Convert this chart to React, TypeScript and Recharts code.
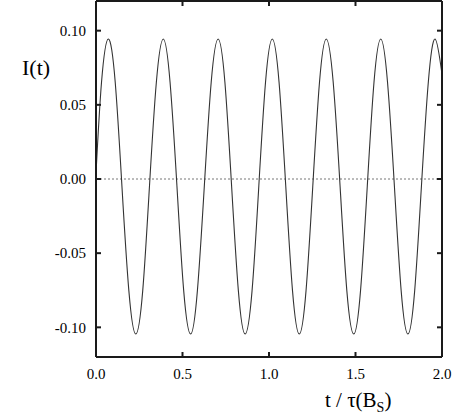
import React from "react";
import { LineChart, Line, XAxis, YAxis, ReferenceLine } from "recharts";

// time in units of tau(B_s)
const T_VALUES = [
  0, 0.032, 0.071, 0.111, 0.150, 0.190, 0.230, 0.270, 0.309, 0.349,
  0.389, 0.428, 0.468, 0.507, 0.547, 0.586, 0.626, 0.666, 0.706, 0.745,
  0.784, 0.823, 0.862, 0.902, 0.941, 0.980, 1.019, 1.058, 1.097, 1.136,
  1.175, 1.214, 1.253, 1.292, 1.331, 1.371, 1.411, 1.450, 1.490, 1.529,
  1.568, 1.607, 1.646, 1.685, 1.725, 1.764, 1.803, 1.842, 1.881, 1.921,
  1.960, 2.0,
];

// I(t)
const I_VALUES = [
  0.004, 0.0654,
  0.0944, 0.0654, -0.005, -0.0754, -0.1045, -0.0754, -0.005, 0.0654,
  0.0944, 0.0654, -0.005, -0.0754, -0.1045, -0.0754, -0.005, 0.0654,
  0.0944, 0.0654, -0.005, -0.0754, -0.1045, -0.0754, -0.005, 0.0654,
  0.0944, 0.0654, -0.005, -0.0754, -0.1045, -0.0754, -0.005, 0.0654,
  0.0944, 0.0654, -0.005, -0.0754, -0.1045, -0.0754, -0.005, 0.0654,
  0.0944, 0.0654, -0.005, -0.0754, -0.1045, -0.0754, -0.005, 0.0654,
  0.0944, 0.0707,
];

const X_TICKS = [0, 0.5, 1.0, 1.5, 2.0];
const Y_TICKS = [-0.1, -0.05, 0, 0.05, 0.1];

const data = T_VALUES.map((t, i) => ({ t, I: I_VALUES[i] }));

const FONT = "Liberation Serif, Times New Roman, Times, serif";
const AXIS = "#1a1a1a";

export default function App() {
  const tickStyle = { fontSize: 15, fontFamily: FONT, fill: "#000", style: { fontFamily: FONT } };
  return (
    <div
      style={{
        position: "absolute",
        left: 0,
        top: 0,
        width: 468,
        height: 415,
        background: "#fff",
        fontFamily: FONT,
      }}
    >
      <LineChart
        width={468}
        height={415}
        data={data}
        style={{ fontFamily: FONT }}
        margin={{ top: 0, right: 25, bottom: 28, left: 0 }}
      >
        <XAxis
          xAxisId="bottom"
          dataKey="t"
          type="number"
          domain={[0, 2]}
          ticks={X_TICKS}
          tickFormatter={(v) => Number(v).toFixed(1)}
          height={30}
          stroke={AXIS}
          strokeWidth={2}
          tickSize={-5}
          tickMargin={16}
          tick={tickStyle}
          interval={0}
        />
        <XAxis
          xAxisId="top"
          orientation="top"
          dataKey="t"
          type="number"
          domain={[0, 2]}
          ticks={X_TICKS}
          tickFormatter={() => ""}
          height={1}
          stroke={AXIS}
          strokeWidth={2}
          tickSize={-5}
          interval={0}
        />
        <YAxis
          yAxisId="left"
          type="number"
          domain={[-0.12, 0.12]}
          ticks={Y_TICKS}
          tickFormatter={(v) => Number(v).toFixed(2)}
          width={96}
          stroke={AXIS}
          strokeWidth={2}
          tickSize={-5}
          tickMargin={15}
          tick={tickStyle}
          interval={0}
        />
        <YAxis
          yAxisId="right"
          orientation="right"
          type="number"
          domain={[-0.12, 0.12]}
          ticks={Y_TICKS}
          tickFormatter={() => ""}
          width={1}
          stroke={AXIS}
          strokeWidth={2}
          tickSize={-5}
          interval={0}
        />
        <ReferenceLine
          xAxisId="bottom"
          yAxisId="left"
          y={0}
          stroke="#777"
          strokeWidth={1}
          strokeDasharray="2 2"
        />
        <Line
          xAxisId="bottom"
          yAxisId="left"
          dataKey="I"
          type="natural"
          stroke="#333"
          strokeWidth={1.1}
          dot={false}
          isAnimationActive={false}
        />
        <Line
          xAxisId="top"
          yAxisId="right"
          dataKey="I"
          stroke="none"
          dot={false}
          isAnimationActive={false}
        />
      </LineChart>
      <svg
        width={468}
        height={415}
        style={{ position: "absolute", left: 0, top: 0, pointerEvents: "none", fontFamily: FONT }}
      >
        <text x={22} y={75} fontSize={22} fill="#000" style={{ fontFamily: FONT }}>
          I(t)
        </text>
        <text x={325} y={407} fontSize={21} fill="#000" style={{ fontFamily: FONT }}>
          t / τ(B
          <tspan fontSize={14} dy={5}>S</tspan>
          <tspan dy={-5}>)</tspan>
        </text>
      </svg>
    </div>
  );
}
